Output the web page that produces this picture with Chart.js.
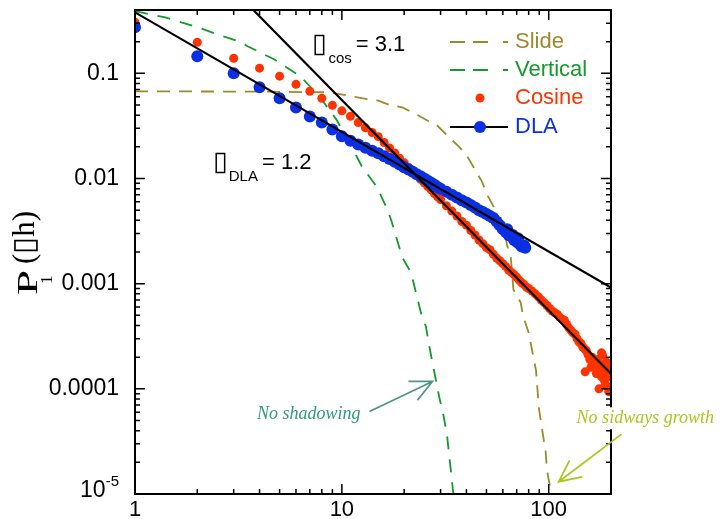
<!DOCTYPE html>
<html><head><meta charset="utf-8">
<script src="https://cdn.jsdelivr.net/npm/chart.js@4.4.1/dist/chart.umd.min.js"></script>
<style>html,body{margin:0;padding:0;background:#fff;}canvas{display:block;}</style>
</head><body>
<canvas id="c" width="723" height="519"></canvas>
<script>
// ---- axis ticks ----
const xTicks = [1, 10, 100];
const xTickLabels = ['1', '10', '100'];
const yTicks = [1e-5, 1e-4, 1e-3, 1e-2, 1e-1];
const yTickLabels = ['', '0.0001', '0.001', '0.01', '0.1'];

// ---- DLA (blue dots) ----
const dlaH = [1,2,3,4,5,6,7,8,9,10,11,12,13,14,15,16,17,18,19,20,21,22,23,24,25,26,27,28,29,30,
  32,34,36,38,40,42,44,46,48,50,52,54,56,58,60,62,63,64,66,67,68,70,71,72,74,76,77];
const dlaP = [0.274,0.145,0.1,0.0736,0.0578,0.0474,0.0389,0.0341,0.0293,0.0252,
  0.0228,0.0210,0.0196,0.0184,0.0174,0.0163,0.0153,0.0144,0.0136,0.0128,
  0.0122,0.0116,0.0110,0.0105,0.0100,0.0095,0.0091,0.0087,0.0083,0.0080,
  0.0075,0.0070,0.0066,0.0062,0.0059,0.0056,0.0053,0.0050,0.0048,0.0046,
  0.0044,0.0042,0.0039,0.0036,0.0033,
  0.0031,0.0033,0.0029,0.0028,0.0029,0.0026,0.0025,0.0027,0.0024,0.00225,0.0023,0.0022];

// ---- Cosine (red dots) ----
const cosH = [1,2,3,4,5,6,7,8,9,10,11,12,13,14,15,16,17,18,19,20,21,22,23,24,25,26,27,28,29,30,
  32,34,36,38,40,42,44,46,48,50,52,54,56,58,60,
  62,64,66,68,70,72,74,76,78,80,
  83,86,89,92,95,98,101,104,107,110,113,116,119,122,125,128,131,134,137,140,143,146,149,
  150,152,155,158,160,162,165,168,170,172,175,175,178,180,180,182,184,186,188,190,190,192,194,195,196,198,200];
const cosP = [0.306,0.197,0.139,0.112,0.094,0.0786,0.0674,0.0578,0.0496,0.0440,
  0.0390,0.0340,0.0303,0.0274,0.0250,0.0220,0.0195,0.0175,0.0156,0.0141,
  0.0128,0.0117,0.0107,0.0098,0.0091,0.0084,0.0078,0.0072,0.0067,0.0063,
  0.0055,0.0049,0.0044,0.0039,0.0036,0.0032,0.0029,0.0026,0.0024,0.0022,0.0021,0.0019,0.00175,0.00165,0.00155,
  0.00145,0.00135,0.00128,0.00122,0.00115,0.00108,0.00102,0.00098,0.00093,0.00090,
  0.00085,0.00080,0.00075,0.00070,0.00066,0.00062,0.00058,0.00055,0.00053,0.00051,0.00048,0.00046,0.00045,
  0.00041,0.00038,0.00036,0.00034,0.00033,0.00030,0.00028,0.00027,0.00025,0.00024,
  0.000145,0.00023,0.00021,0.00019,0.00016,0.00020,0.00018,0.00017,0.00014,0.00019,0.00016,0.00010,0.00015,
  0.00013,0.00022,0.00021,0.00017,0.00012,0.00011,0.00014,0.00018,0.000105,0.00016,0.000094,0.0001,0.000095,0.00013];

// ---- Vertical (green dashed) ----
const vertH = [1,1.4,2,2.5,3.2,3.5,4.7,6.3,7.8,9.4,11,12.5,14.7,16.6,17.4,19.6,21.6,24.1,25.5,26.3,28.5,29.5,31.1,32.3,34.1,34.6];
const vertP = [0.39,0.34,0.275,0.235,0.2,0.181,0.136,0.094,0.06,0.0365,0.021,0.013,0.0084,0.0051,0.0039,0.00177,0.00127,
  0.00053,0.00039,0.00027,0.00012,0.000085,0.000054,0.000035,0.000013,0.00001];

// ---- Slide (olive dashed) ----
const slideH = [1,4,8.5,10.5,12.5,15,17,19.6,22.9,26.3,28.5,36.8,39.9,43.4,47.5,50.4,54.4,57.3,61,63,65.5,67.5,
  73.2,75.2,80.1,82.5,86.8,89.6,94.5,96.7,98,102,103];
const slideP = [0.0674,0.067,0.066,0.062,0.058,0.055,0.05,0.0474,0.0407,0.035,0.0327,0.0201,0.0169,0.0127,0.0094,0.007,
  0.0053,0.0041,0.0031,0.0023,0.0018,0.00088,0.00066,0.00049,0.00034,0.00025,0.00015,0.000066,0.000033,0.000025,
  0.000017,0.000011,0.00001];

// ---- power-law fit lines ----
const fitDlaH = [1, 200];
const fitDlaP = [0.38, 0.00092];
const fitCosH = [3.7, 200];
const fitCosP = [0.407, 0.000139];

const pts = (hs, ps) => hs.map((h, i) => ({x: h, y: ps[i]}));

const SANS = '"Liberation Sans", Arial, Helvetica, sans-serif';
const SERIF = '"Liberation Serif", "Times New Roman", serif';
const C_SLIDE = '#9c8a2c', C_VERT = '#139a2b', C_COS = '#ff3300', C_DLA = '#0b2fe2';
const Y_LABEL_PAD = 16;

const deco = {
  id: 'deco',
  afterDatasetsDraw(chart) {
    const {ctx, chartArea: a, scales: {x, y}} = chart;
    ctx.save();
    // frame
    ctx.strokeStyle = '#000';
    ctx.lineWidth = 2;
    ctx.strokeRect(a.left, a.top, a.right - a.left, a.bottom - a.top);
    // inward ticks on all four sides
    ctx.lineWidth = 1.5;
    ctx.beginPath();
    for (let d = 1; d <= 100; d *= 10) {
      for (let k = 1; k <= 9; k++) {
        const px = x.getPixelForValue(d * k);
        if (px <= a.left + 1 || px >= a.right - 1) continue;
        const L = k === 1 ? 10 : 5;
        ctx.moveTo(px, a.bottom); ctx.lineTo(px, a.bottom - L);
        ctx.moveTo(px, a.top); ctx.lineTo(px, a.top + L);
      }
    }
    for (let d = 1e-5; d <= 0.11; d *= 10) {
      for (let k = 1; k <= 9; k++) {
        const py = y.getPixelForValue(d * k);
        if (py <= a.top + 1 || py >= a.bottom - 1) continue;
        const L = k === 1 ? 10 : 5;
        ctx.moveTo(a.left, py); ctx.lineTo(a.left + L, py);
        ctx.moveTo(a.right, py); ctx.lineTo(a.right - L, py);
      }
    }
    ctx.stroke();

    // 10^-5 tick label
    ctx.fillStyle = '#000';
    ctx.textBaseline = 'middle';
    ctx.textAlign = 'right';
    const py5 = y.getPixelForValue(1e-5);
    const rEdge = a.left - Y_LABEL_PAD;
    ctx.font = '15px ' + SANS;
    const wSup = ctx.measureText('-5').width;
    ctx.fillText('-5', rEdge, py5 - 12);
    ctx.font = '23px ' + SANS;
    ctx.fillText('10', rEdge - wSup, py5 - 3);

    // y axis title P1(▯h)
    ctx.save();
    ctx.translate(37, 295);
    ctx.rotate(-Math.PI / 2);
    ctx.textAlign = 'left';
    ctx.textBaseline = 'alphabetic';
    ctx.font = '30px ' + SERIF;
    ctx.save(); ctx.scale(1.5, 1); ctx.fillText('P', 0, 0); ctx.restore();
    ctx.font = '17px ' + SERIF;
    ctx.fillText('1', 11, 15);
    ctx.font = '31px ' + SERIF;
    ctx.fillText('(\u25AFh)', 31, -3);
    ctx.restore();

    // exponent annotations
    const ann = (h, p, sub, val) => {
      const ax = x.getPixelForValue(h), ay = y.getPixelForValue(p);
      ctx.textAlign = 'left'; ctx.textBaseline = 'alphabetic'; ctx.fillStyle = '#000';
      ctx.font = '27px ' + SANS;
      ctx.fillText('\u25AF', ax - 2, ay + 1);
      const w1 = 14;
      ctx.font = '15px ' + SANS;
      ctx.fillText(sub, ax + w1, ay + 12);
      const w2 = ctx.measureText(sub).width;
      ctx.font = '22px ' + SANS;
      ctx.fillText('= ' + val, ax + w1 + w2 + 4, ay);
    };
    ann(7.37, 0.162, 'cos', '3.1');
    ann(2.43, 0.0122, 'DLA', '1.2');

    // legend (top right, inside plot)
    const lx0 = a.right - 161, tx = a.right - 96;
    const rows = [a.top + 32, a.top + 60, a.top + 88, a.top + 117];
    const dashSeg = (cy, col) => {
      ctx.strokeStyle = col; ctx.lineWidth = 1.8; ctx.beginPath();
      [[0, 15], [23, 38], [53, 58]].forEach(([s, e]) => { ctx.moveTo(lx0 + s, cy); ctx.lineTo(lx0 + e, cy); });
      ctx.stroke();
    };
    dashSeg(rows[0], C_SLIDE);
    dashSeg(rows[1], C_VERT);
    ctx.fillStyle = C_COS; ctx.beginPath(); ctx.arc(lx0 + 30, rows[2], 4.5, 0, Math.PI * 2); ctx.fill();
    ctx.strokeStyle = '#000'; ctx.lineWidth = 2; ctx.beginPath(); ctx.moveTo(lx0, rows[3]); ctx.lineTo(lx0 + 58, rows[3]); ctx.stroke();
    ctx.fillStyle = C_DLA; ctx.beginPath(); ctx.arc(lx0 + 30, rows[3], 6, 0, Math.PI * 2); ctx.fill();
    ctx.font = '22px ' + SANS; ctx.textAlign = 'left'; ctx.textBaseline = 'alphabetic';
    [['Slide', C_SLIDE], ['Vertical', C_VERT], ['Cosine', C_COS], ['DLA', C_DLA]].forEach(([t, c], i) => {
      ctx.fillStyle = c; ctx.fillText(t, tx, rows[i] + 6);
    });

    // arrow annotations
    const arrow = (h0, p0, h1, p1, col) => {
      const x0 = x.getPixelForValue(h0), y0 = y.getPixelForValue(p0);
      const x1 = x.getPixelForValue(h1), y1 = y.getPixelForValue(p1);
      const ang = Math.atan2(y1 - y0, x1 - x0), L = 24, sp = 0.45;
      ctx.strokeStyle = col; ctx.lineWidth = 1.8; ctx.beginPath();
      ctx.moveTo(x0, y0); ctx.lineTo(x1, y1);
      ctx.moveTo(x1 - L * Math.cos(ang - sp), y1 - L * Math.sin(ang - sp)); ctx.lineTo(x1, y1);
      ctx.lineTo(x1 - L * Math.cos(ang + sp), y1 - L * Math.sin(ang + sp));
      ctx.stroke();
    };
    arrow(13.6, 6.08e-5, 27.4, 1.175e-4, '#4f9484');
    arrow(225, 3.71e-5, 111.7, 1.31e-5, '#a8c81e');
    ctx.font = 'italic 18px ' + SERIF;
    ctx.textBaseline = 'alphabetic';
    ctx.fillStyle = '#2f9a7c'; ctx.textAlign = 'right';
    ctx.fillText('No shadowing', x.getPixelForValue(12.3), y.getPixelForValue(5.18e-5));
    // "No sidways growth" sits on a white box that hides the frame behind it
    const sgx = x.getPixelForValue(136.4), sgy = y.getPixelForValue(4.7e-5);
    const sgw = ctx.measureText('No sidways growth').width;
    ctx.fillStyle = '#fff';
    ctx.fillRect(sgx - 2, sgy - 16, sgw + 4, 22);
    ctx.fillStyle = '#a8c81e'; ctx.textAlign = 'left';
    ctx.fillText('No sidways growth', sgx, sgy);
    ctx.restore();
  }
};

const zeroPad = s => { s.paddingTop = 0; s.paddingBottom = 0; s.paddingLeft = 0; s.paddingRight = 0; };

new Chart(document.getElementById('c'), {
  type: 'scatter',
  data: {
    datasets: [
      {label: 'fitDLA', data: pts(fitDlaH, fitDlaP), showLine: true, borderColor: '#000', borderWidth: 2.2, pointRadius: 0},
      {label: 'fitCos', data: pts(fitCosH, fitCosP), showLine: true, borderColor: '#000', borderWidth: 2.2, pointRadius: 0},
      {label: 'DLA', data: pts(dlaH, dlaP), showLine: false, pointRadius: 6, pointBackgroundColor: C_DLA, pointBorderWidth: 0, borderColor: C_DLA},
      {label: 'Cosine', data: pts(cosH, cosP), showLine: false, pointRadius: 4.5, pointBackgroundColor: C_COS, pointBorderWidth: 0, borderColor: C_COS},
      {label: 'Vertical', data: pts(vertH, vertP), showLine: true, borderColor: C_VERT, borderWidth: 1.8, borderDash: [13, 10], pointRadius: 0},
      {label: 'Slide', data: pts(slideH, slideP), showLine: true, borderColor: C_SLIDE, borderWidth: 1.8, borderDash: [13, 9], pointRadius: 0}
    ]
  },
  options: {
    responsive: false,
    animation: false,
    devicePixelRatio: 1,
    layout: {padding: {top: 10, right: 112, left: 0, bottom: 0}},
    plugins: {legend: {display: false}, tooltip: {enabled: false}},
    scales: {
      x: {
        type: 'logarithmic', min: 1, max: 200, position: 'bottom',
        grid: {display: false, drawTicks: false}, border: {display: false},
        afterBuildTicks: s => { s.ticks = xTicks.map(v => ({value: v})); },
        afterFit: s => { s.height = 25; zeroPad(s); },
        ticks: {
          autoSkip: false, maxRotation: 0, padding: 3, color: '#000',
          font: {family: SANS, size: 22},
          callback: v => { const i = xTicks.indexOf(v); return i >= 0 ? xTickLabels[i] : ''; }
        }
      },
      y: {
        type: 'logarithmic', min: 1e-5, max: 0.4, position: 'left',
        grid: {display: false, drawTicks: false}, border: {display: false},
        afterBuildTicks: s => { s.ticks = yTicks.map(v => ({value: v})); },
        afterFit: s => { s.width = 135; zeroPad(s); },
        ticks: {
          autoSkip: false, padding: Y_LABEL_PAD, color: '#000',
          font: {family: SANS, size: 23},
          callback: v => { const i = yTicks.findIndex(t => Math.abs(t - v) / t < 1e-6); return i >= 0 ? yTickLabels[i] : ''; }
        }
      }
    }
  },
  plugins: [deco]
});
</script>
</body></html>
